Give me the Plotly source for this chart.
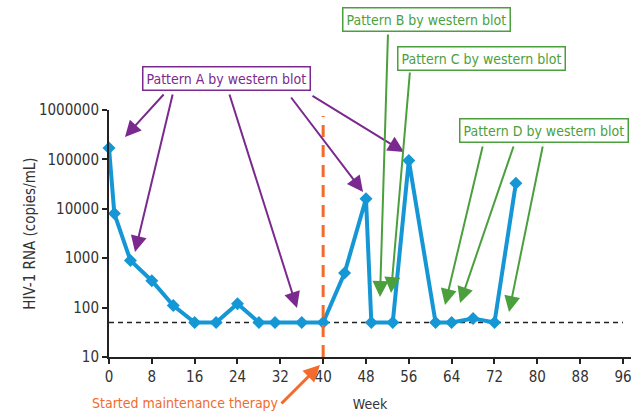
import plotly.graph_objects as go

# ---- data ----
weeks = [0, 1, 4, 8, 12, 16, 20, 24, 28, 31, 36, 40, 44, 48, 49, 53, 56, 61, 64, 68, 72, 76]
hiv_rna = [170000, 8000, 900, 350, 110, 50, 50, 120, 50, 50, 50, 50, 500, 16000, 50, 50,
           95000, 50, 50, 60, 50, 33000]
detection_limit = 50
maintenance_week = 40
x_ticks = [0, 8, 16, 24, 32, 40, 48, 56, 64, 72, 80, 88, 96]
y_tickvals = [10, 100, 1000, 10000, 100000, 1000000]
y_ticktext = ["10", "100", "1000", "10000", "100000", "1000000"]

W, H = 631, 412
ML, MR, MT, MB = 109, 0, 110, 55
PW, PH = W - ML - MR, H - MT - MB

def px(x):
    return (x - ML) / PW

def py(y):
    return (H - MB - y) / PH

FONT = "DejaVu Sans Condensed, Liberation Sans, sans-serif"
BLUE = "#1597d5"
PURPLE = "#7a2a8e"
GREEN = "#4b9f3d"
ORANGE = "#f26a2c"

fig = go.Figure()
fig.add_trace(go.Scatter(
    x=[0, 96], y=[detection_limit, detection_limit], mode="lines",
    line=dict(color="#222222", width=1.5, dash="5px,4px"), hoverinfo="skip", showlegend=False))
fig.add_trace(go.Scatter(
    x=weeks, y=hiv_rna, mode="lines+markers",
    line=dict(color=BLUE, width=4),
    marker=dict(symbol="diamond", size=10, color=BLUE),
    showlegend=False, cliponaxis=False))

fig.add_shape(type="line", xref="x", yref="paper", x0=maintenance_week, x1=maintenance_week,
              y0=0, y1=py(116), line=dict(color=ORANGE, width=3, dash="12px,8px"))

annotations = []

def box(text, cx, cy, color):
    annotations.append(dict(
        text=text, xref="paper", yref="paper", x=px(cx), y=py(cy), showarrow=False,
        font=dict(family=FONT, size=14, color=color), bordercolor=color, borderwidth=1.5,
        borderpad=3, bgcolor="white", xanchor="center", yanchor="middle"))

def arrow(head, tail, color, width=2, size=1.6):
    annotations.append(dict(
        text="", xref="paper", yref="paper", x=px(head[0]), y=py(head[1]),
        ax=tail[0] - head[0], ay=tail[1] - head[1], showarrow=True,
        arrowhead=2, arrowsize=size, arrowwidth=width, arrowcolor=color, standoff=0))

# Pattern A arrows
for h, t in [((125, 137), (165, 93)), ((135, 252), (173, 93)), ((297, 308), (229, 93)),
             ((363, 192), (290, 96)), ((404, 152), (311, 95))]:
    arrow(h, t, PURPLE)
# Pattern B / C arrows
arrow((380, 297), (388, 33), GREEN)
arrow((391, 293), (410, 71), GREEN)
# Pattern D arrows
for h, t in [((445, 305), (483, 145)), ((460, 303), (514, 145)), ((509, 312), (543, 145))]:
    arrow(h, t, GREEN)
# maintenance therapy arrow
arrow((320, 365), (280, 405), ORANGE, width=3, size=1.1)

box("Pattern A by western blot", 226, 78.5, PURPLE)
box("Pattern B by western blot", 426, 19.5, GREEN)
box("Pattern C by western blot", 481, 58.5, GREEN)
box("Pattern D by western blot", 544, 130.5, GREEN)

annotations.append(dict(
    text="Started maintenance therapy", xref="paper", yref="paper", x=px(185), y=py(403),
    showarrow=False, font=dict(family=FONT, size=14, color=ORANGE),
    xanchor="center", yanchor="middle"))

fig.update_layout(
    width=W, height=H, margin=dict(l=ML, r=MR, t=MT, b=MB),
    plot_bgcolor="white", paper_bgcolor="white",
    font=dict(family=FONT, size=15, color="#333333"),
    annotations=annotations,
    xaxis=dict(range=[0, 97.5], tickvals=x_ticks, showgrid=False, zeroline=False,
               showline=True, linecolor="#222222", linewidth=2,
               ticks="outside", ticklen=5, tickwidth=2, tickcolor="#222222",
               ticklabeloverflow="allow",
               tickfont=dict(family=FONT, size=15, color="#333333"),
               title=dict(text="Week", standoff=16, font=dict(family=FONT, size=14, color="#333333"))),
    yaxis=dict(type="log", range=[1, 6], tickvals=y_tickvals, ticktext=y_ticktext,
               showgrid=False, zeroline=False,
               showline=True, linecolor="#222222", linewidth=2,
               ticks="outside", ticklen=5, tickwidth=2, tickcolor="#222222",
               tickfont=dict(family=FONT, size=15, color="#333333"),
               title=dict(text="HIV-1 RNA (copies/mL)", standoff=0,
                          font=dict(family=FONT, size=15, color="#333333"))),
)

fig.write_html("out.html", config={"displayModeBar": False},
               post_script="document.body.style.margin='0';")
